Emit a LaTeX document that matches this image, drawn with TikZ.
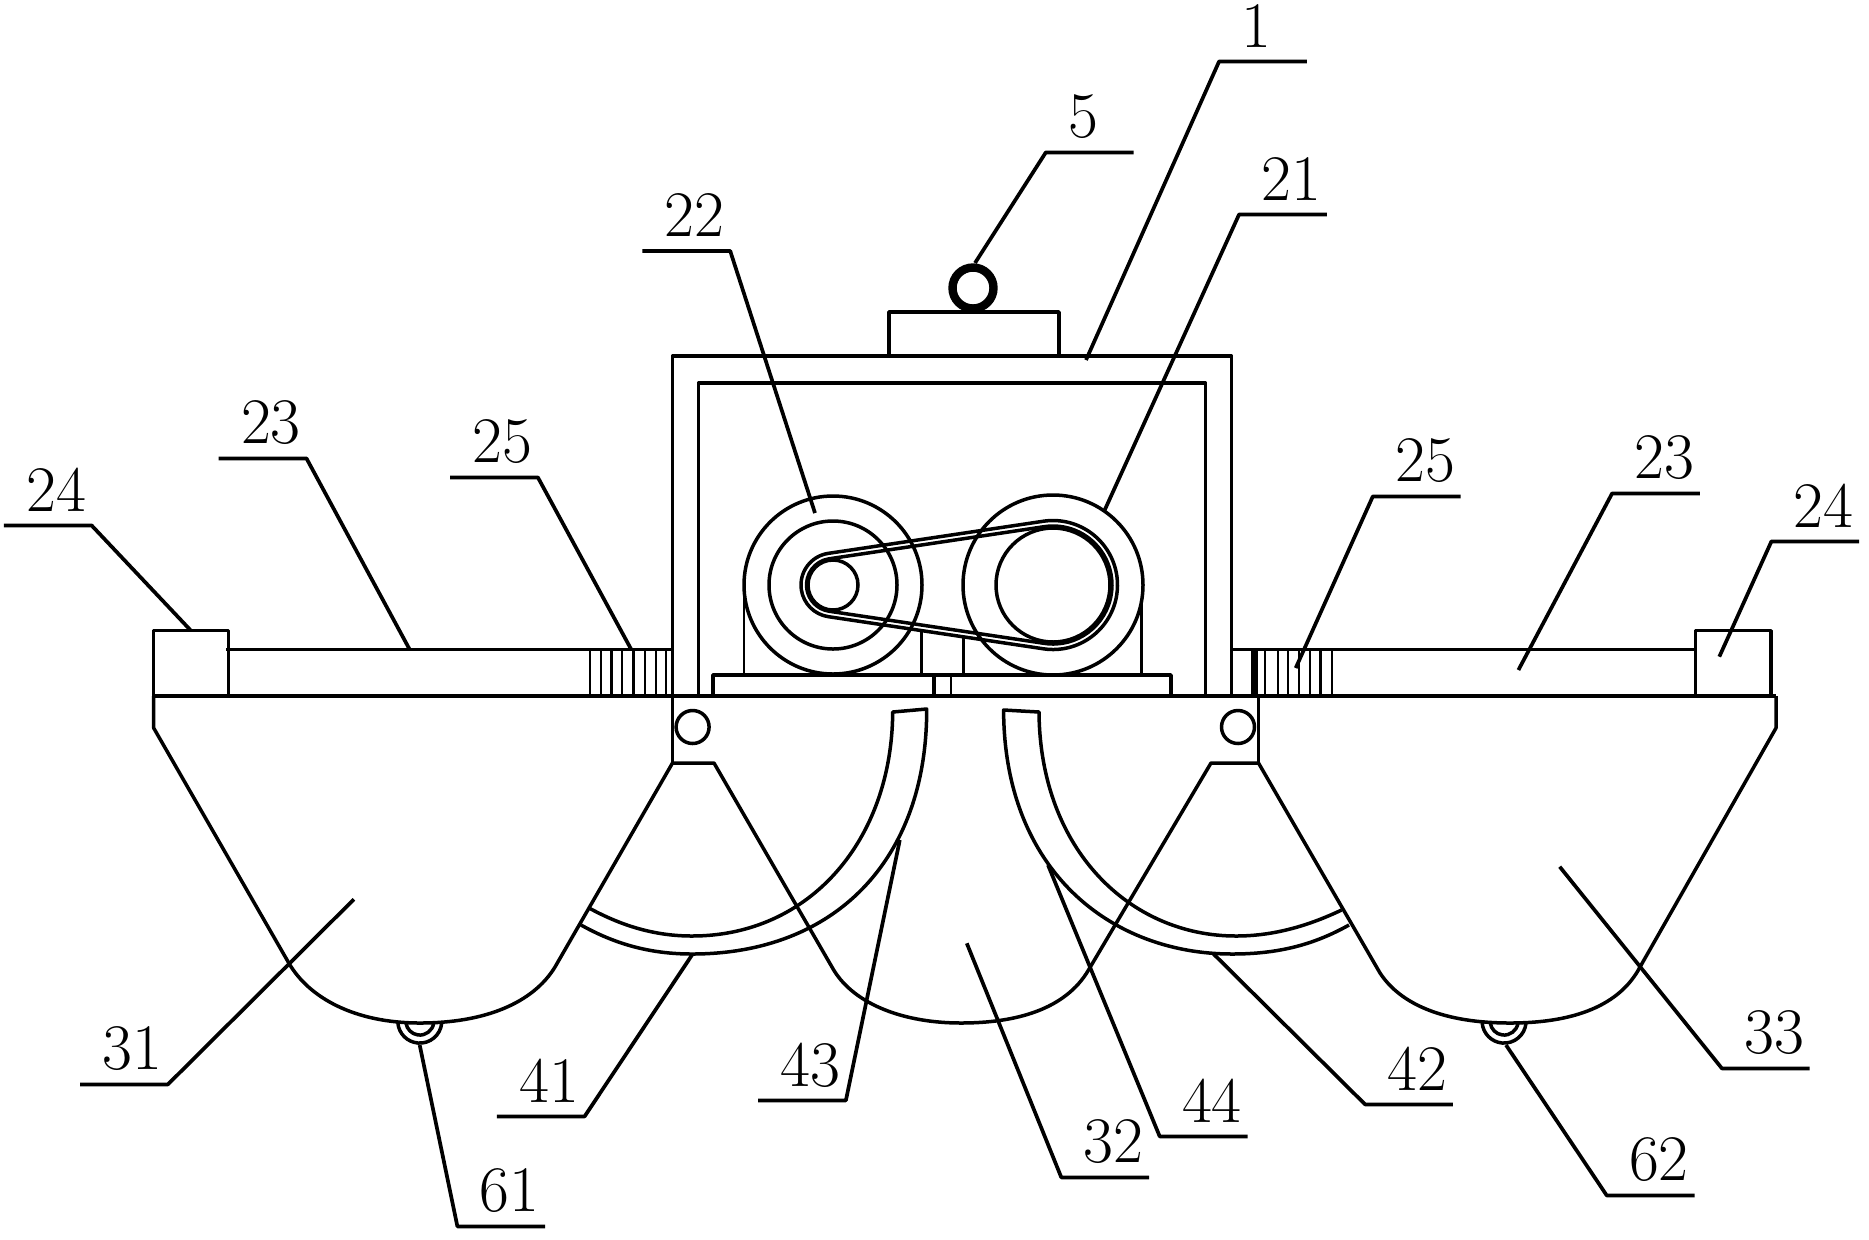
\documentclass[tikz,border=0pt]{standalone}
\usetikzlibrary{calc}
\begin{document}
\begin{tikzpicture}[x=0.5pt,y=-0.5pt]
        \tikzset{body/.style = {line width=1.75pt, line join=round},
            thinbody/.style  = {line width=1.2pt},
            lead/.style      = {line width=1.85pt, line join=round},
            part/.style      = {inner sep=0pt,
                text width=43.5pt, minimum height=35pt, align=left,
                font=\fontsize{32.5}{34}\selectfont,
                execute at begin node=\hspace*{11pt}}}
        \useasboundingbox (0,0) rectangle (1869,1239);
        \draw[body] (153.7,696) -- (1776,696);
        \draw[body] (889,356) -- (889,312) -- (1059,312) -- (1059,356);
        \draw[body] (672.5,696) -- (672.5,356) -- (1231.5,356) -- (1231.5,696);
        \draw[body] (698.6,696) -- (698.6,383) -- (1205.5,383) -- (1205.5,696);
        \draw[line width=4.2pt] (973,288) circle[radius=20.5];
        \draw[body] (713,696) -- (713,675) -- (1171,675) -- (1171,696);
        \draw[body] (934,675) -- (934,696);
        \draw[thinbody] (951,675) -- (951,696);
        \draw[thinbody] (744,590) -- (744,675);
        \draw[thinbody] (921.6,632) -- (921.6,675);
        \draw[body] (963.5,638) -- (963.5,675);
        \draw[thinbody] (1141.5,600) -- (1141.5,675);
        \coordinate (pulleyL) at (833,585);
        \coordinate (pulleyR) at (1053,585);
        \draw[body] (pulleyL) circle[radius=89];
        \draw[body] (pulleyL) circle[radius=64];
        \draw[body] (pulleyL) circle[radius=25];
        \draw[body] (pulleyR) circle[radius=90];
        \draw[body] (pulleyR) circle[radius=57];
        \draw[body] ($(pulleyL)+(261.6:32)$) arc[start angle=261.6, end angle=98.4, radius=32]
            -- ($(pulleyR)+(98.4:64.5)$) arc[start angle=98.4, end angle=-98.4, radius=64.5] -- cycle;
        \draw[body] ($(pulleyL)+(261.6:26.5)$) arc[start angle=261.6, end angle=98.4, radius=26.5]
            -- ($(pulleyR)+(98.4:59)$) arc[start angle=98.4, end angle=-98.4, radius=59] -- cycle;
        \draw[body] (153.7,630.7) rectangle (228.7,696);
        \draw[body] (1695.6,630.7) rectangle (1771,696);
        \draw[body] (226.4,649.3) -- (672.5,649.3);
        \draw[body] (1231.5,649.3) -- (1695.6,649.3);
        \draw[thinbody] (590,649) -- (590,696) (600.7,649) -- (600.7,696)
            (611.4,649) -- (611.4,696) (622,649) -- (622,696)
            (633.6,649) -- (633.6,696) (644.7,649) -- (644.7,696)
            (655.8,649) -- (655.8,696) (665.8,649) -- (665.8,696);
        \draw[thinbody] (1251.7,649) -- (1251.7,696) (1254,649) -- (1254,696)
            (1256.5,649) -- (1256.5,696) (1265,649) -- (1265,696)
            (1277.7,649) -- (1277.7,696) (1288,649) -- (1288,696)
            (1298.7,649) -- (1298.7,696) (1309.8,649) -- (1309.8,696)
            (1320.5,649) -- (1320.5,696) (1332,649) -- (1332,696);
        \draw[body] (153.7,696) -- (153.7,728) -- (288.8,963)
            .. controls (309,998) and (355,1023) .. (420,1023)
            .. controls (485,1023) and (533,1003) .. (555,967) -- (672.5,763);
        \draw[thinbody] (672.5,696) -- (672.5,763);
        \draw[body] (672.5,763) -- (714,763) -- (833.7,970)
            .. controls (855,1005) and (905,1023) .. (961,1023)
            .. controls (1015,1023) and (1065,1010) .. (1088.5,970) -- (1211,763) -- (1258.5,763);
        \draw[thinbody] (1258.5,763) -- (1258.5,696);
        \draw[body] (1258.5,763) -- (1380,973)
            .. controls (1401,1005) and (1445,1023) .. (1510,1023)
            .. controls (1575,1023) and (1620,1005) .. (1640,967) -- (1776,728) -- (1776,696);
        \draw[body] (692.6,727) circle[radius=16.5];
        \draw[body] (1238,727) circle[radius=16.5];
        \coordinate (rollerL) at (419.7,1021);
        \coordinate (rollerR) at (1504,1021);
        \draw[body] ($(rollerL)+(22,2)$) arc[start angle=5, end angle=175, radius=22];
        \draw[body] ($(rollerL)+(14,2)$) arc[start angle=8, end angle=172, radius=14];
        \draw[body] ($(rollerR)+(22,2)$) arc[start angle=5, end angle=175, radius=22];
        \draw[body] ($(rollerR)+(14,2)$) arc[start angle=8, end angle=172, radius=14];
        \draw[body] (589,908) .. controls (622,926) and (655,936) .. (692,936)
            .. controls (810,936) and (892,840) .. (892.7,712) -- (926.7,709)
            .. controls (927,860) and (835,954) .. (692,954)
            .. controls (650,954) and (615,944) .. (581,925);
        \draw[body] (1341.6,910) .. controls (1310,925) and (1275,936) .. (1236,936)
            .. controls (1130,936) and (1040,850) .. (1039,712) -- (1003.6,710)
            .. controls (1004,870) and (1110,954) .. (1232,954)
            .. controls (1280,954) and (1315,944) .. (1349,925);
        \node[part] (N1) at (1263,26) {1};
        \node[part] (N5) at (1089.7,117) {5};
        \node[part] (N22) at (686.3,215.5) {22};
        \node[part] (N21) at (1283,179) {21};
        \node[part] (N23L) at (262.6,423) {23};
        \node[part] (N25L) at (494,442) {25};
        \node[part] (N24L) at (47.7,490) {24};
        \node[part] (N25R) at (1416.7,461) {25};
        \node[part] (N23R) at (1656,458) {23};
        \node[part] (N24R) at (1815.3,506) {24};
        \node[part] (N31) at (124,1049) {31};
        \node[part] (N41) at (540.7,1081) {41};
        \node[part] (N43) at (802,1065) {43};
        \node[part] (N32) at (1105.2,1142) {32};
        \node[part] (N44) at (1203.6,1101) {44};
        \node[part] (N42) at (1409,1069) {42};
        \node[part] (N33) at (1765.8,1033) {33};
        \node[part] (N61) at (501.3,1191) {61};
        \node[part] (N62) at (1650.6,1160) {62};
        \coordinate (T1) at (1086,360);
        \coordinate (T5) at (975,263);
        \coordinate (T22) at (815,513);
        \coordinate (T21) at (1104.7,510);
        \coordinate (T23L) at (409.4,649);
        \coordinate (T25L) at (631,649);
        \coordinate (T24L) at (191,630.7);
        \coordinate (T25R) at (1295.7,668);
        \coordinate (T23R) at (1518.4,670);
        \coordinate (T24R) at (1719.3,656.7);
        \coordinate (T31) at (353.9,899.3);
        \coordinate (T41) at (692,955);
        \coordinate (T43) at (899.8,840);
        \coordinate (T32) at (966.8,943.3);
        \coordinate (T44) at (1048,865);
        \coordinate (T42) at (1213.6,954);
        \coordinate (T33) at (1559.7,866.7);
        \coordinate (T61) at (419.7,1045);
        \coordinate (T62) at (1506,1045);
        \draw[lead] (N1.south east) -- (N1.south west) -- (T1);
        \draw[lead] (N5.south east) -- (N5.south west) -- (T5);
        \draw[lead] (N22.south west) -- (N22.south east) -- (T22);
        \draw[lead] (N21.south east) -- (N21.south west) -- (T21);
        \draw[lead] (N23L.south west) -- (N23L.south east) -- (T23L);
        \draw[lead] (N25L.south west) -- (N25L.south east) -- (T25L);
        \draw[lead] (N24L.south west) -- (N24L.south east) -- (T24L);
        \draw[lead] (N25R.south east) -- (N25R.south west) -- (T25R);
        \draw[lead] (N23R.south east) -- (N23R.south west) -- (T23R);
        \draw[lead] (N24R.south east) -- (N24R.south west) -- (T24R);
        \draw[lead] (N31.south west) -- (N31.south east) -- (T31);
        \draw[lead] (N41.south west) -- (N41.south east) -- (T41);
        \draw[lead] (N43.south west) -- (N43.south east) -- (T43);
        \draw[lead] (N32.south east) -- (N32.south west) -- (T32);
        \draw[lead] (N44.south east) -- (N44.south west) -- (T44);
        \draw[lead] (N42.south east) -- (N42.south west) -- (T42);
        \draw[lead] (N33.south east) -- (N33.south west) -- (T33);
        \draw[lead] (N61.south east) -- (N61.south west) -- (T61);
        \draw[lead] (N62.south east) -- (N62.south west) -- (T62);
\end{tikzpicture}
\end{document}
